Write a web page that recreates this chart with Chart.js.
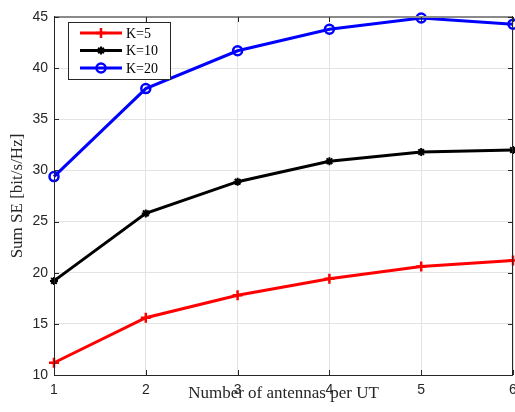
<!DOCTYPE html>
<html>
<head>
<meta charset="utf-8">
<script src="https://cdn.jsdelivr.net/npm/chart.js@4.4.1/dist/chart.umd.min.js"></script>
<style>
  html, body { margin: 0; padding: 0; background: #fff; }
  #wrap { width: 515px; height: 412px; }
</style>
</head>
<body>
<div id="wrap"><canvas id="seChart" width="515" height="412"></canvas></div>
<script>
// Antennas per UT and the sum SE for each number of UTs
const antennas = [1, 2, 3, 4, 5, 6];
const seK5 = [11.2, 15.6, 17.8, 19.4, 20.6, 21.2];
const seK10 = [19.2, 25.8, 28.9, 30.9, 31.8, 32.0];
const seK20 = [29.4, 38.0, 41.7, 43.8, 44.9, 44.3];
const yTicks = [10, 15, 20, 25, 30, 35, 40, 45];

const axisColor = '#262626';
const tickFont = { family: 'Liberation Sans, Arial, sans-serif', size: 14 };
const labelFont = { family: 'Liberation Serif, Times New Roman, serif', size: 17 };

function toPoints(vals) {
    return vals.map((v, i) => ({ x: antennas[i], y: v }));
}

// caja de ejes estilo MATLAB con marcas hacia dentro + leyenda
const framePlugin = {
    id: 'frame',
    afterDraw(chart) {
        const { ctx, chartArea: a, scales: { x, y } } = chart;
        ctx.save();
        // borde superior gris, el resto oscuro
        ctx.fillStyle = '#8a8a8a';
        ctx.fillRect(a.left, a.top - 1, a.right - a.left, 2);
        ctx.strokeStyle = axisColor;
        ctx.lineWidth = 1;
        ctx.beginPath();
        ctx.moveTo(a.left + 0.5, a.top - 1);
        ctx.lineTo(a.left + 0.5, a.bottom + 0.5);
        ctx.lineTo(a.right - 0.5, a.bottom + 0.5);
        ctx.lineTo(a.right - 0.5, a.top - 1);
        ctx.stroke();

        const tl = 5;
        ctx.beginPath();
        antennas.forEach(v => {
            const px = Math.round(x.getPixelForValue(v)) + 0.5;
            ctx.moveTo(px, a.bottom); ctx.lineTo(px, a.bottom - tl);
            ctx.moveTo(px, a.top); ctx.lineTo(px, a.top + tl);
        });
        yTicks.forEach(v => {
            const py = Math.round(y.getPixelForValue(v)) + 0.5;
            ctx.moveTo(a.left, py); ctx.lineTo(a.left + tl, py);
            ctx.moveTo(a.right, py); ctx.lineTo(a.right - tl, py);
        });
        ctx.stroke();

        // leyenda
        const bx = 68.5, by = 22.5, bw = 102, bh = 57;
        ctx.fillStyle = '#fff';
        ctx.fillRect(bx, by, bw, bh);
        ctx.strokeStyle = axisColor;
        ctx.lineWidth = 1;
        ctx.strokeRect(bx, by, bw, bh);
        ctx.font = '14px ' + labelFont.family;
        ctx.textBaseline = 'middle';
        chart.data.datasets.forEach((ds, i) => {
            const ry = 33 + i * 17.5;
            ctx.strokeStyle = ds.borderColor;
            ctx.fillStyle = ds.pointBackgroundColor;
            ctx.lineWidth = ds.borderWidth;
            ctx.beginPath();
            ctx.moveTo(80, ry); ctx.lineTo(122, ry);
            ctx.stroke();
            ctx.lineWidth = ds.pointBorderWidth;
            Chart.helpers.drawPoint(ctx, {
                pointStyle: ds.pointStyle,
                radius: ds.pointRadius,
                borderWidth: ds.pointBorderWidth,
                rotation: 0
            }, 101, ry);
            ctx.fillStyle = '#000';
            ctx.fillText(ds.label, 126, ry + 1);
        });
        ctx.restore();
    }
};

function makeSet(label, color, data, style, radius, pbw) {
    return {
        label: label,
        data: toPoints(data),
        borderColor: color,
        backgroundColor: color,
        borderWidth: 3,
        pointStyle: style,
        pointRadius: radius,
        pointBorderWidth: pbw,
        pointBorderColor: color,
        pointBackgroundColor: style === 'circle' ? 'rgba(0,0,0,0)' : color,
        tension: 0,
        clip: false
    };
}

new Chart(document.getElementById('seChart').getContext('2d'), {
    type: 'line',
    data: {
        datasets: [
            makeSet('K=5', '#ff0000', seK5, 'cross', 5, 2.5),
            makeSet('K=10', '#000000', seK10, 'star', 4, 2),
            makeSet('K=20', '#0000ff', seK20, 'circle', 4.5, 2.5)
        ]
    },
    options: {
        responsive: false,
        animation: false,
        layout: { autoPadding: false, padding: { top: 17, right: 2, left: 0, bottom: 0 } },
        plugins: { legend: { display: false }, tooltip: { enabled: false } },
        scales: {
            x: {
                type: 'linear',
                min: 1,
                max: 6,
                afterBuildTicks: s => { s.ticks = antennas.map(v => ({ value: v })); },
                ticks: { font: tickFont, color: axisColor, padding: 7, maxRotation: 0 },
                grid: { color: '#e3e3e3', drawTicks: false },
                border: { display: false },
                title: {
                    display: true,
                    text: 'Number of antennas per UT',
                    font: labelFont,
                    color: axisColor,
                    padding: { top: 0, bottom: 8 }
                },
                afterFit: s => { s.height = 37; s.paddingLeft = 0; s.paddingRight = 0; }
            },
            y: {
                min: 10,
                max: 45,
                afterBuildTicks: s => { s.ticks = yTicks.map(v => ({ value: v })); },
                ticks: { font: tickFont, color: axisColor, padding: 6 },
                grid: { color: '#e3e3e3', drawTicks: false },
                border: { display: false },
                title: {
                    display: true,
                    text: 'Sum SE [bit/s/Hz]',
                    font: labelFont,
                    color: axisColor,
                    padding: { top: 7, bottom: 0 }
                },
                afterFit: s => { s.width = 54; s.paddingTop = 0; s.paddingBottom = 0; }
            }
        }
    },
    plugins: [framePlugin]
});
</script>
</body>
</html>
